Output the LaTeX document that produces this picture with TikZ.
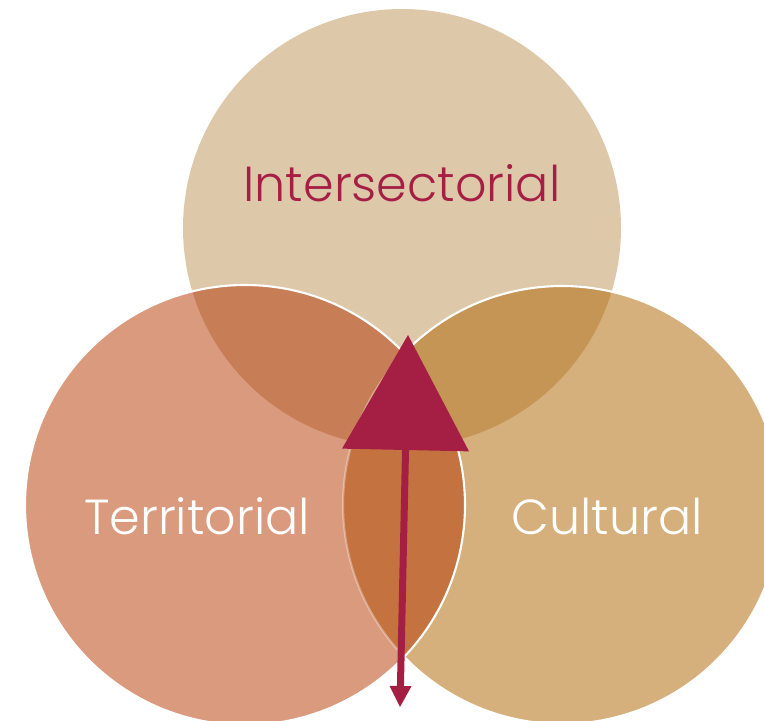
\documentclass[tikz,border=0pt]{standalone}
\usepackage{fontspec}
\setmainfont{Poppins Light}
\usetikzlibrary{arrows.meta, positioning}

\definecolor{intercol}{HTML}{DDC9AA}
\definecolor{terrcol}{HTML}{DA9A7E}
\definecolor{cultcol}{HTML}{D5AF7C}
\definecolor{interterr}{HTML}{C77E57}
\definecolor{intercult}{HTML}{C49555}
\definecolor{terrcult}{HTML}{C47340}
\definecolor{allthree}{HTML}{C26E3C}
\definecolor{arrowred}{HTML}{A51F45}

\begin{document}
\begin{tikzpicture}[x=0.025cm, y=-0.025cm,
    venn label/.style={font=\fontsize{35}{42}\selectfont, anchor=base},
    rim/.style={white, line width=1.5pt}]

        \useasboundingbox (0,0) rectangle (764,721);
        \clip (0,0) rectangle (764,721);

        \coordinate (inter) at (402,228);
        \coordinate (terr) at (245,505);
        \coordinate (cult) at (562,505);

        % circles
        \fill[intercol] (inter) circle[radius=219];
        \fill[cultcol] (cult) circle[radius=219];
        \fill[terrcol] (terr) circle[radius=220];

        % overlaps
        \begin{scope}
          \clip (inter) circle[radius=219];
          \fill[interterr] (terr) circle[radius=220];
          \fill[intercult] (cult) circle[radius=219];
        \end{scope}
        \begin{scope}
          \clip (terr) circle[radius=220];
          \fill[terrcult] (cult) circle[radius=219];
          \clip (inter) circle[radius=219];
          \fill[allthree] (cult) circle[radius=219];
        \end{scope}

        % white rims
        \draw[rim, opacity=0.35] (cult) ++(136.1:219) arc[start angle=136.1, end angle=223.9, radius=219];
        \draw[rim] (cult) ++(-136.1:219) arc[start angle=-136.1, end angle=136.1, radius=219];
        \draw[rim] (terr) circle[radius=220];

        % labels
        \node[venn label, text=arrowred] (interlabel) at (402,202) {Intersectorial};
        \node[venn label, text=white] (terrlabel) at (197,534) {Territorial};
        \node[venn label, text=white] (cultlabel) at (607,534) {Cultural};

        % arrow
        \coordinate (arrowtail) at (400,707);
        \coordinate (arrowtip) at (408,335);
        \draw[arrowred, line width=0.175cm,
          {Triangle[width=0.55cm, length=0.525cm, line width=0pt]}-{Triangle[width=3.175cm, length=2.875cm, line width=0pt]}]
          (arrowtail) -- (arrowtip);
      \end{tikzpicture}
\end{document}
